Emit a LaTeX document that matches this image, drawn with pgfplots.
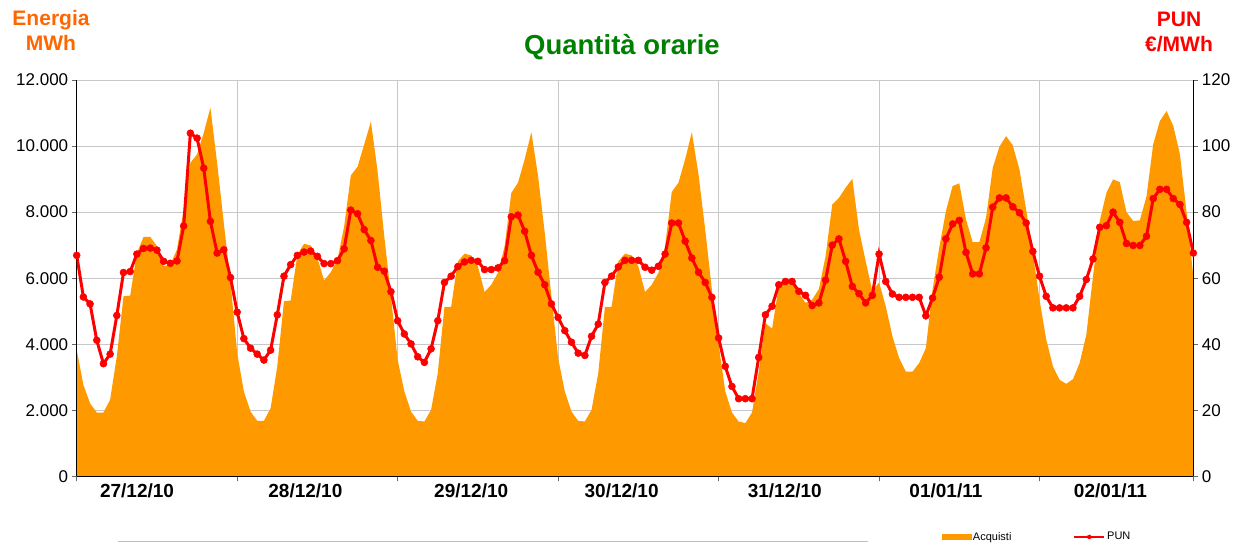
\documentclass[border=0pt]{standalone}
\usepackage{pgfplots}
\pgfplotsset{compat=1.18}
\usepackage{pgfplotstable}
\usepackage{fontspec}
\setmainfont{Liberation Sans}
\definecolor{areaor}{HTML}{FF9900}
\definecolor{punred}{HTML}{FF0000}
\definecolor{titgreen}{HTML}{008000}
\definecolor{enor}{HTML}{FF6600}
\definecolor{gridg}{HTML}{C8C8C8}

\pgfplotstableread{
x E P
0 3830 66.9
1 2770 54.3
2 2210 52.2
3 1930 41.2
4 1930 34.1
5 2320 37.0
6 3630 48.7
7 5450 61.7
8 5470 62.0
9 6760 67.3
10 7250 69.0
11 7250 69.1
12 6970 68.5
13 6360 65.1
14 6410 64.5
15 6870 65.2
16 8080 75.8
17 9490 103.9
18 9750 102.4
19 10400 93.3
20 11160 77.2
21 9490 67.6
22 7670 68.6
23 5900 60.2
24 3730 49.7
25 2570 41.7
26 1960 38.8
27 1680 37.0
28 1680 35.2
29 2060 38.2
30 3330 48.9
31 5300 60.6
32 5320 64.1
33 6710 66.9
34 7040 67.9
35 6990 68.2
36 6610 66.6
37 5930 64.4
38 6180 64.4
39 6560 65.3
40 7570 68.9
41 9110 80.6
42 9370 79.5
43 10050 74.7
44 10740 71.4
45 9240 63.3
46 7270 62.1
47 5450 55.9
48 3530 47.1
49 2570 43.1
50 1960 40.1
51 1680 36.2
52 1660 34.5
53 2010 38.6
54 3120 47.1
55 5130 58.7
56 5130 60.6
57 6510 63.5
58 6740 64.9
59 6690 65.4
60 6360 65.1
61 5580 62.6
62 5800 62.6
63 6160 63.1
64 6970 65.3
65 8580 78.6
66 8890 79.1
67 9600 74.2
68 10420 66.9
69 9090 61.8
70 7370 58.0
71 5450 52.2
72 3580 48.1
73 2570 44.1
74 1960 40.6
75 1680 37.3
76 1660 36.6
77 2010 42.4
78 3120 46.1
79 5130 58.7
80 5130 60.6
81 6510 63.4
82 6740 65.4
83 6690 65.4
84 6360 65.4
85 5580 63.3
86 5800 62.4
87 6160 63.6
88 6970 67.3
89 8610 76.7
90 8890 76.7
91 9600 71.2
92 10420 66.1
93 9140 61.8
94 7470 58.7
95 5650 54.2
96 4000 41.9
97 2570 33.3
98 1930 27.2
99 1660 23.5
100 1610 23.5
101 1930 23.5
102 3170 36.0
103 4640 48.9
104 4470 51.5
105 5750 58.0
106 5960 59.0
107 5960 59.0
108 5550 56.0
109 5250 54.8
110 5350 51.7
111 5670 52.5
112 6660 59.4
113 8230 70.0
114 8430 71.9
115 8740 65.1
116 9010 57.5
117 7470 55.3
118 6510 52.5
119 5600 54.8
120 5870 67.3
121 5150 59.0
122 4240 55.2
123 3580 54.2
124 3170 54.2
125 3170 54.2
126 3430 54.2
127 3880 48.6
128 5650 54.0
129 6920 60.3
130 8030 71.9
131 8790 76.4
132 8870 77.5
133 7780 67.8
134 7090 61.3
135 7090 61.3
136 7830 69.2
137 9340 81.5
138 9980 84.3
139 10300 84.3
140 10020 81.6
141 9290 79.8
142 8080 76.7
143 6760 68.1
144 5350 60.6
145 4140 54.5
146 3330 51.0
147 2920 51.0
148 2800 51.0
149 2940 51.0
150 3430 54.5
151 4290 59.6
152 6060 65.8
153 7730 75.4
154 8580 75.9
155 8990 80.0
156 8910 76.9
157 8000 70.5
158 7730 69.9
159 7750 69.9
160 8480 72.7
161 10050 84.1
162 10760 86.9
163 11060 86.9
164 10610 84.1
165 9750 82.3
166 7980 76.9
167 6060 67.6
}\datatab

\pgfplotsset{
  common/.style={
    at={(76.7pt,65.7pt)}, anchor=south west,
    scale only axis, width=1116.6pt, height=396.3pt,
    xmin=0, xmax=167, scaled ticks=false,
  },
  arealeg/.style={legend image code/.code={\fill[areaor] (0pt,-2.5pt) rectangle (29pt,2.5pt);}},
  punleg/.style={legend image code/.code={\draw[mark repeat=2,mark phase=2,##1,line width=1.7pt,mark size=2pt] plot coordinates {(0pt,0pt) (15pt,0pt) (30pt,0pt)};}},
}

\begin{document}
\begin{tikzpicture}[x=1pt,y=1pt]
\useasboundingbox (0,0) rectangle (1247,542);
% grid only
\begin{axis}[
  common, ymin=0, ymax=12000,
  xtick={24,48,72,96,120,144}, ytick={2000,4000,...,12000},
  xticklabels={}, yticklabels={},
  grid=major, grid style={gridg, line width=0.8pt},
  major tick length=0pt, tick style={draw=none},
  axis line style={draw=none},
]
\end{axis}
% energy area
\begin{axis}[
  common, ymin=0, ymax=12000,
  axis on top,
  axis x line*=bottom, axis y line*=left,
  axis line style={black, line width=0.8pt, -},
  xtick={0,24,48,72,96,120,144,167},
  xticklabels={},
  extra x ticks={9.02,34.2,59.0,81.5,105.9,130.0,154.6},
  extra x tick labels={27/12/10,28/12/10,29/12/10,30/12/10,31/12/10,01/01/11,02/01/11},
  extra x tick style={major tick length=0pt,
     tick label style={font=\fontsize{19}{20}\selectfont\bfseries, yshift=-4pt}},
  ytick={0,2000,...,12000},
  tick style={black!60, line width=0.6pt},
  tick align=outside, major tick length=5pt,
  yticklabel style={font=\fontsize{17}{18}\selectfont},
  /pgf/number format/1000 sep={.},
  /pgf/number format/assume math mode=true,
]
\addplot[fill=areaor, draw=none] table[x=x,y=E]{\datatab} \closedcycle;
\end{axis}
% PUN
\begin{axis}[
  common, ymin=0, ymax=120,
  axis y line*=right, hide x axis,
  axis line style={black, line width=0.8pt, -},
  ytick={0,20,...,120},
  tick style={black!60, line width=0.6pt},
  tick align=outside, major tick length=5pt,
  yticklabel style={font=\fontsize{17}{18}\selectfont},
  /pgf/number format/assume math mode=true,
  legend columns=2,
  legend style={draw=none, fill=none, at={(0.86,-0.153)}, anchor=center,
    font=\fontsize{11}{12}\selectfont,
    /tikz/every even column/.append style={column sep=60pt}},
]
\addlegendimage{arealeg}
\addlegendentry{Acquisti}
\addplot[punred, line width=3pt, mark=*, mark size=3.5pt,
  mark options={fill=punred, draw=punred, line width=0.5pt}, punleg]
  table[x=x,y=P]{\datatab};
\addlegendentry{PUN}
\end{axis}
\node[font=\fontsize{27.5}{30}\selectfont\bfseries, text=titgreen] at (622,495) {Quantità orarie};
\node[font=\fontsize{21}{25}\selectfont\bfseries, text=enor, align=center] at (51,511.5) {Energia\\MWh};
\node[font=\fontsize{21}{25}\selectfont\bfseries, text=punred, align=center] at (1179,510.5) {PUN\\€/MWh};
\draw[gray!50, line width=1pt] (118,1) -- (868,1);
\end{tikzpicture}
\end{document}
